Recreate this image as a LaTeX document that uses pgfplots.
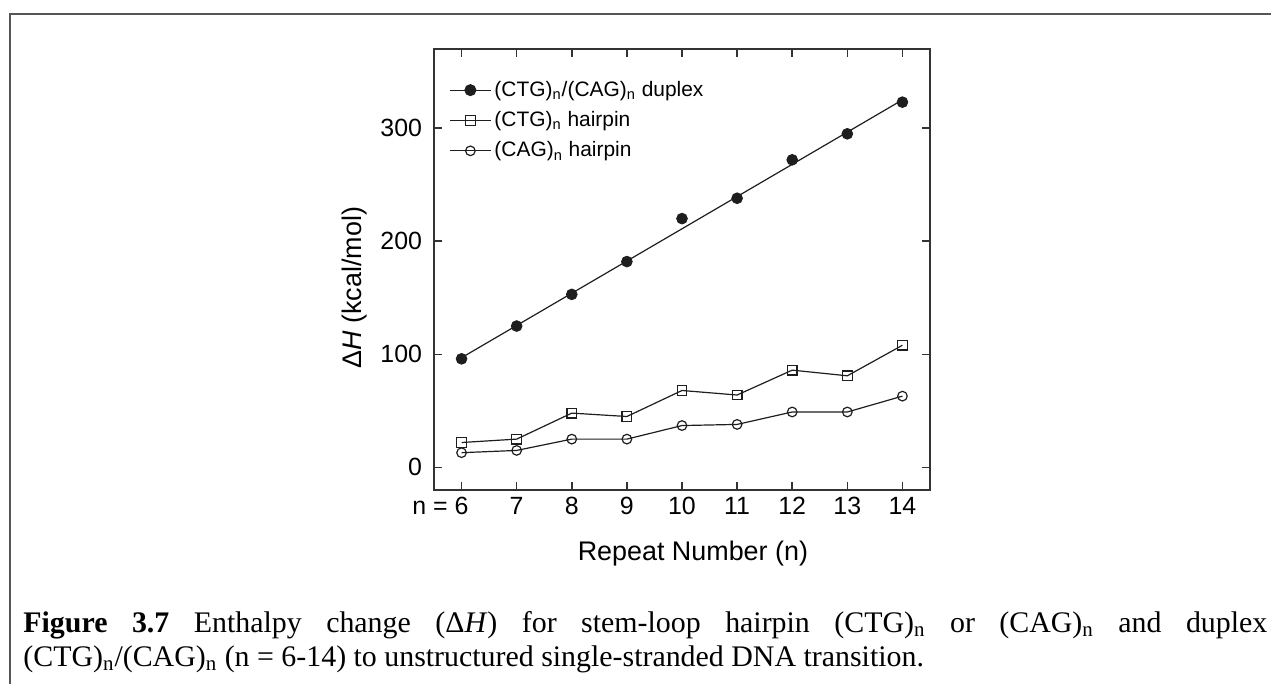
\documentclass[border=0pt]{standalone}
\usepackage{pgfplots}
\pgfplotsset{compat=1.18}
\usepackage{fontspec}
\setmainfont{Liberation Serif}
\newfontfamily\arial{Liberation Sans}
\definecolor{ink}{HTML}{1E1E1E}
\definecolor{framec}{HTML}{555555}
\begin{document}
\begin{tikzpicture}
\useasboundingbox (0bp,0bp) rectangle (635.5bp,-342bp);
\draw[line width=0.9bp, framec] (4.8bp,-342bp) -- (4.8bp,-7bp) -- (635.5bp,-7bp);
\begin{axis}[
  at={(217bp,-24.5bp)}, anchor=north west,
  scale only axis, width=248bp, height=220.5bp,
  xmin=5.5, xmax=14.5, ymin=-20, ymax=370,
  xtick={6,7,8,9,10,11,12,13,14},
  xticklabels={\llap{n = }6,7,8,9,10,11,12,13,14},
  ytick={0,100,200,300},
  tick align=inside, xtick pos=both, ytick pos=both,
  major tick length=4bp,
  axis line style={line width=0.75bp, draw=black!80},
  every tick/.style={line width=0.75bp, black!80},
  /pgf/number format/assume math mode=true,
  tick label style={font=\arial\fontsize{12.5}{14}\selectfont},
  yticklabel style={xshift=-2.5bp},
  xlabel={Repeat Number (n)},
  ylabel={Δ\textit{H} (kcal/mol)},
  label style={font=\arial\fontsize{13.5}{15}\selectfont},
  xlabel style={at={(axis description cs:0.522,-0.143)}, anchor=center},
  ylabel style={at={(axis description cs:-0.16,0.459)}, anchor=center, rotate=0},
  legend style={at={(rel axis cs:0.03,0.935)}, anchor=north west, draw=none, fill=none,
    font=\arial\fontsize{10.5}{12}\selectfont, row sep=3.1bp, inner sep=0pt,
    nodes={inner sep=1.5bp}},
  legend cell align=left,
  legend image code/.code={\draw[mark repeat=2,mark phase=2] plot coordinates {(0bp,0bp) (10.25bp,0bp) (20.5bp,0bp)};},
]
\addlegendimage{ink, line width=0.6bp, mark=*, mark size=2.7bp, mark options={fill=ink}}
\addlegendentry{(CTG)\textsubscript{n}/(CAG)\textsubscript{n} duplex}
\addlegendimage{ink, line width=0.6bp, mark=square, mark size=2.4bp, mark options={line width=0.6bp, fill=white}}
\addlegendentry{(CTG)\textsubscript{n} hairpin}
\addlegendimage{ink, line width=0.6bp, mark=o, mark size=2.4bp, mark options={line width=0.6bp, fill=white}}
\addlegendentry{(CAG)\textsubscript{n} hairpin}

\addplot[ink, line width=0.6bp, forget plot] coordinates {(6,97) (14,325)};
\addplot[ink, only marks, mark=*, mark size=2.7bp, mark options={fill=ink}, forget plot] coordinates {
(6,96) (7,125) (8,153) (9,182) (10,220) (11,238) (12,272) (13,295) (14,323)};
\addplot[ink, line width=0.6bp, mark=square, mark size=2.4bp, mark options={line width=0.6bp, fill=white}, forget plot] coordinates {
(6,22) (7,25) (8,48) (9,45) (10,68) (11,64) (12,86) (13,81) (14,108)};
\addplot[ink, line width=0.6bp, mark=o, mark size=2.4bp, mark options={line width=0.6bp, fill=white}, forget plot] coordinates {
(6,13) (7,15) (8,25) (9,25) (10,37) (11,38) (12,49) (13,49) (14,63)};
\end{axis}
\node[anchor=north west, inner sep=0pt, text width=622bp, align=justify, font=\fontsize{15}{17}\selectfont] at (11.5bp,-305.6bp)
{\textbf{Figure 3.7} Enthalpy change (Δ\textit{H}) for stem-loop hairpin (CTG)\textsubscript{n} or (CAG)\textsubscript{n} and duplex\linebreak (CTG)\textsubscript{n}/(CAG)\textsubscript{n} (n = 6-14) to unstructured single-stranded DNA transition.};
\end{tikzpicture}
\end{document}
